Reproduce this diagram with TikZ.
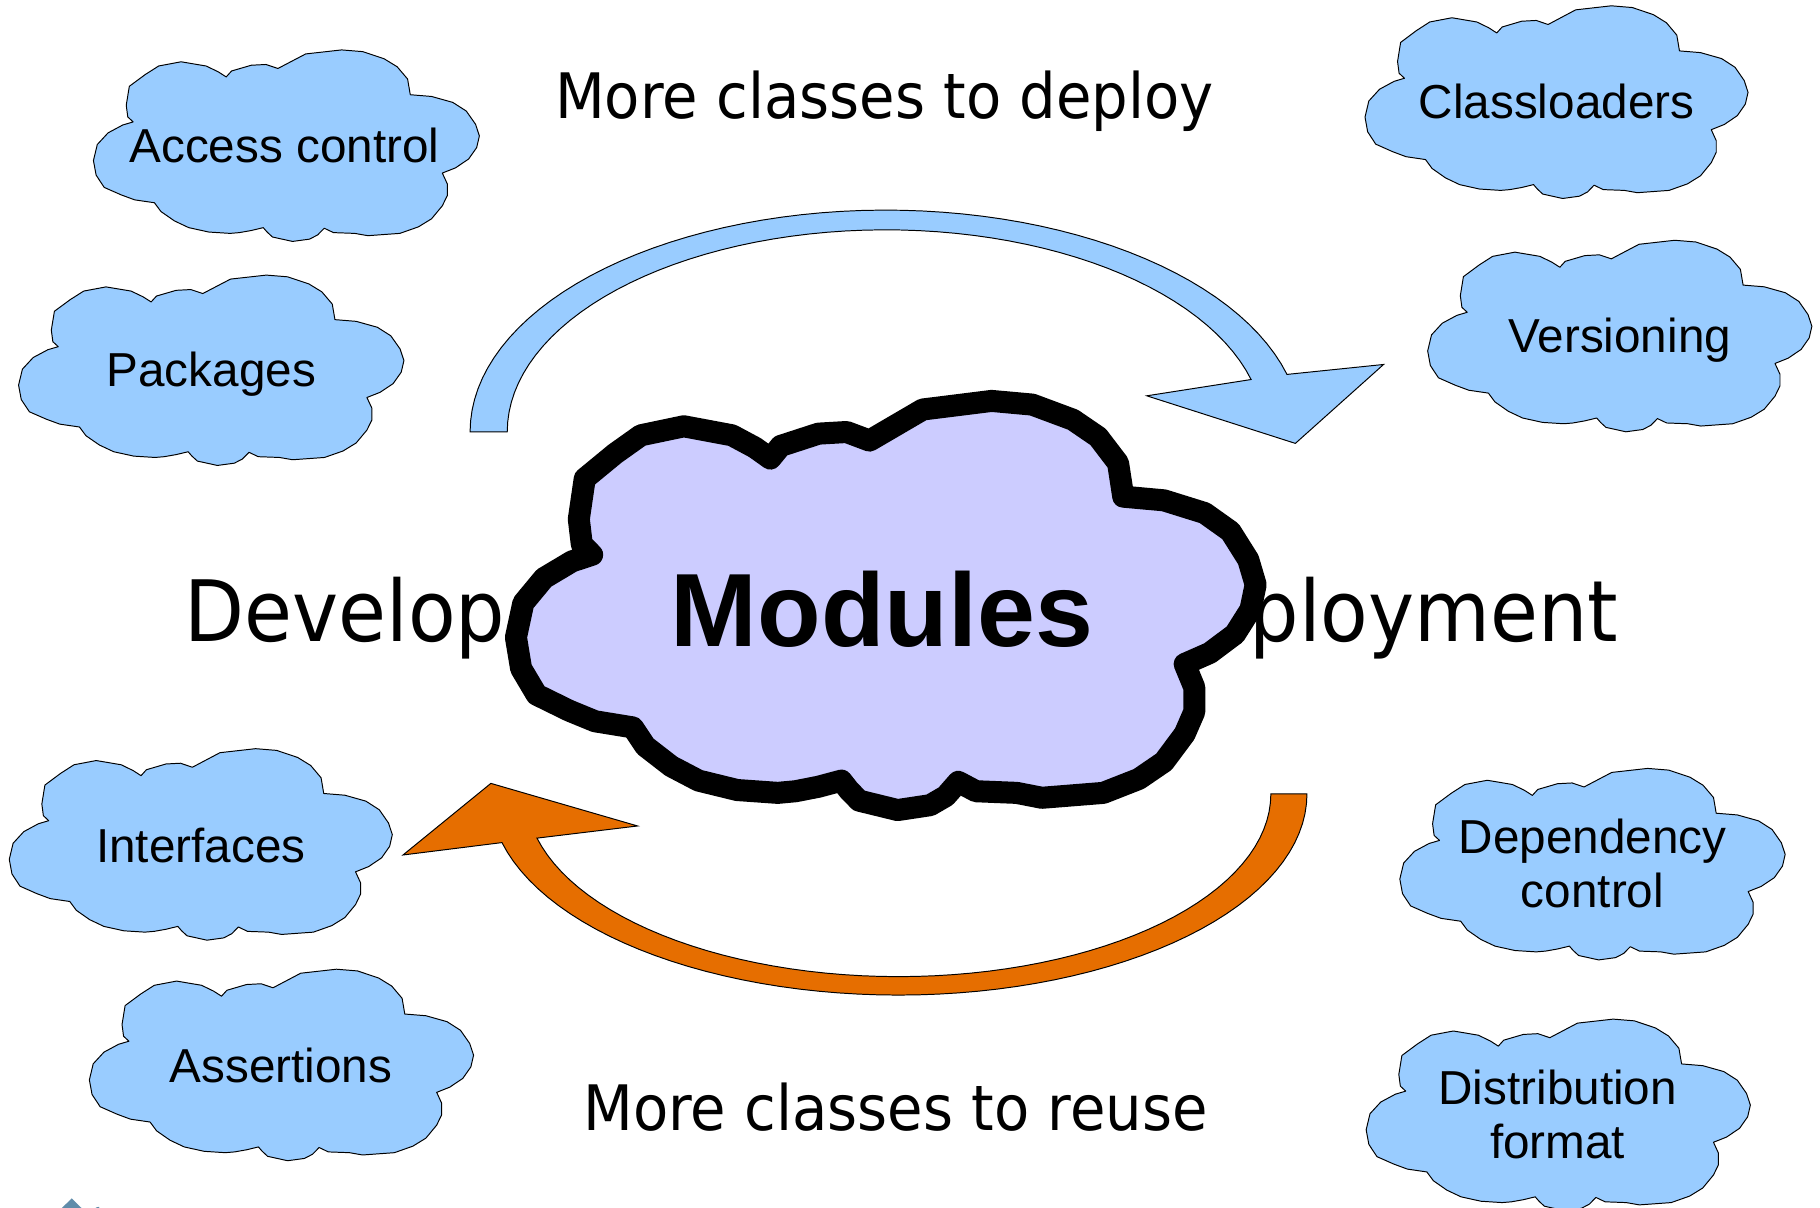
\documentclass[tikz,border=0pt]{standalone}
\usepackage{fontspec}
\setmainfont{Liberation Sans}
\newfontfamily\dejavu{DejaVu Sans}[FakeStretch=0.92]
\definecolor{cloudblue}{HTML}{99CCFF}
\definecolor{lavender}{HTML}{CCCCFF}
\definecolor{arroworange}{RGB}{230,110,0}
\definecolor{logoblue}{RGB}{96,140,170}
\def\cloudshape{(0.085,0.289) -- (0.093,0.190) -- (0.134,0.129) -- (0.169,0.084) -- (0.227,0.062) -- (0.292,0.084) -- (0.323,0.114) -- (0.344,0.141) -- (0.358,0.110) -- (0.409,0.080) -- (0.447,0.076) -- (0.478,0.097) -- (0.550,0.021) -- (0.643,0) -- (0.698,0.009) -- (0.753,0.046) -- (0.787,0.088) -- (0.814,0.152) -- (0.821,0.234) -- (0.876,0.243) -- (0.931,0.274) -- (0.966,0.319) -- (0.990,0.388) -- (1,0.449) -- (0.993,0.510) -- (0.972,0.570) -- (0.938,0.616) -- (0.904,0.643) -- (0.917,0.700) -- (0.917,0.760) -- (0.904,0.814) -- (0.876,0.882) -- (0.842,0.924) -- (0.794,0.958) -- (0.711,0.970) -- (0.677,0.958) -- (0.622,0.954) -- (0.598,0.931) -- (0.581,0.966) -- (0.560,0.988) -- (0.516,1) -- (0.464,0.977) -- (0.450,0.951) -- (0.440,0.928) -- (0.409,0.943) -- (0.378,0.954) -- (0.354,0.958) -- (0.299,0.951) -- (0.247,0.928) -- (0.210,0.893) -- (0.175,0.844) -- (0.158,0.798) -- (0.107,0.783) -- (0.072,0.757) -- (0.028,0.718) -- (0.007,0.654) -- (0,0.578) -- (0.010,0.494) -- (0.038,0.433) -- (0.076,0.392) -- (0.103,0.376) -- (0.089,0.350) -- cycle}
\tikzset{
  smallcloud/.style={fill=cloudblue, draw=black, line width=0.6pt, line join=round},
  bigcloud/.style={fill=lavender, draw=black, line width=13.5pt, line join=round},
  cloudtext/.style={font=\fontsize{29.2pt}{33.1pt}\selectfont, inner sep=0pt, anchor=base, align=center},
  bigtext/.style={font=\dejavu\fontsize{38.4pt}{44pt}\selectfont, inner sep=0pt, anchor=base},
  cycletext/.style={font=\dejavu\fontsize{51.9pt}{60pt}\selectfont, inner sep=0pt},
  moduletext/.style={font=\bfseries\fontsize{63.8pt}{70pt}\selectfont, inner sep=0pt, anchor=base},
  bluearrow/.style={fill=cloudblue, draw=black, line width=0.6pt, line join=miter},
  orangearrow/.style={fill=arroworange, draw=black, line width=0.6pt, line join=miter}
}
\begin{document}
\begin{tikzpicture}[x=0.025cm, y=-0.025cm]
\useasboundingbox (0,0) rectangle (1568,1040);
\fill[white] (0,0) rectangle (1568,1040);

% small clouds
\begin{scope}[shift={(80.5,43)}, xscale=332.5, yscale=165]
  \path[smallcloud] \cloudshape;
\end{scope}
\node[cloudtext] (access) at (245,140) {Access control};

\begin{scope}[shift={(16,237)}, xscale=332, yscale=164]
  \path[smallcloud] \cloudshape;
\end{scope}
\node[cloudtext] (packages) at (182,333) {Packages};

\begin{scope}[shift={(1176,5)}, xscale=330, yscale=166]
  \path[smallcloud] \cloudshape;
\end{scope}
\node[cloudtext] (classloaders) at (1341,102) {Classloaders};

\begin{scope}[shift={(1230,207)}, xscale=331, yscale=165]
  \path[smallcloud] \cloudshape;
\end{scope}
\node[cloudtext] (versioning) at (1395.5,304) {Versioning};

\begin{scope}[shift={(8,645)}, xscale=330, yscale=165]
  \path[smallcloud] \cloudshape;
\end{scope}
\node[cloudtext] (interfaces) at (173,743) {Interfaces};

\begin{scope}[shift={(77,835)}, xscale=331, yscale=165]
  \path[smallcloud] \cloudshape;
\end{scope}
\node[cloudtext] (assertions) at (242,933) {Assertions};

\begin{scope}[shift={(1206,662)}, xscale=332, yscale=165]
  \path[smallcloud] \cloudshape;
\end{scope}
\node[cloudtext] (dependency) at (1372,782) {Dependency\\control};

\begin{scope}[shift={(1177,878)}, xscale=331, yscale=165]
  \path[smallcloud] \cloudshape;
\end{scope}
\node[cloudtext] (distribution) at (1342,998) {Distribution\\format};

% top blue arrow
\path[bluearrow] plot[domain=0:165, samples=60] ({763+358*cos(180-\x)},{372-191*sin(180-\x)})
  -- (1192,314) -- (1116,382) -- (988,341)
  -- plot[domain=0:165, samples=60] ({763+326*cos(15+\x)},{372-174*sin(15+\x)}) -- cycle;

% bottom orange arrow
\path[orangearrow] plot[domain=0:166, samples=60] ({774+352*cos(\x)},{684+173.3*sin(\x)})
  -- (347.2,736.6) -- (422.9,674.9) -- (549.3,711.6)
  -- plot[domain=0:166, samples=60] ({774+320.9*cos(166-\x)},{684+157.4*sin(166-\x)}) -- cycle;

% labels
\node[bigtext] (deploy) at (762,102.5) {More classes to deploy};
\node[bigtext] (reuse) at (771.5,974) {More classes to reuse};
\node[cycletext, anchor=base west] (develop) at (158.6,552.8) {Develop};
\node[cycletext, anchor=base east] (ployment) at (1394.6,552.8) {ployment};

% central cloud
\begin{scope}[shift={(444.5,345.4)}, xscale=637.3, yscale=352.5]
  \path[bigcloud] \cloudshape;
\end{scope}
\node[moduletext] (modules) at (760,557) {Modules};

% cropped logo at the bottom edge
\fill[logoblue] (61.8,1032.5) -- (70.5,1041) -- (53,1041) -- cycle;
\draw[logoblue, line width=2pt] (84,1040) arc[start angle=180, end angle=20, radius=5];
\end{tikzpicture}
\end{document}
